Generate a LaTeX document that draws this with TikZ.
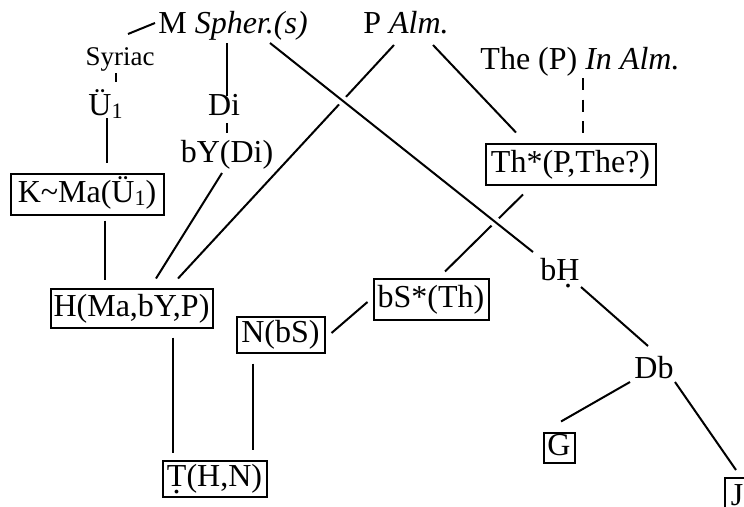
\documentclass[tikz,border=0pt]{standalone}
\usepackage{fontspec}
\setmainfont{Liberation Serif}
\pgfdeclarelayer{bg}
\pgfsetlayers{bg,main}
\newcommand\subone{\raisebox{-3pt}{\fontsize{22}{22}\selectfont 1}}
\newcommand\udot[1]{\leavevmode\setbox0\hbox{#1}\rlap{\hbox to\wd0{\hss\raisebox{-7pt}{.}\hss}}\box0}
\tikzset{
  lbl/.style={inner sep=0pt, anchor=base, font=\fontsize{32}{38}\selectfont},
  box/.style={draw, line width=2pt, inner xsep=2pt, inner ysep=0pt,
    text height=22pt, text depth=6pt, font=\fontsize{32}{38}\selectfont},
  conn/.style={line width=2pt},
  dashconn/.style={conn, dash pattern=on 12pt off 9.5pt},
  bridge/.style={conn, preaction={draw=white, line width=10pt}},
}
\begin{document}
\begin{tikzpicture}[x=1pt,y=-1pt]
\useasboundingbox (0,0) rectangle (744,506);
% top labels
\node[lbl] (M) at (233,33) {M \textit{Spher.(s)}};
\node[lbl] (P) at (406,33) {P \textit{Alm.}};
\node[lbl] (The) at (580,69.5) {The (P) \textit{In Alm.}};
\node[lbl, font=\fontsize{27}{32}\selectfont] (Sy) at (120,65) {Syriac};
\node[lbl] (U) at (105.5,115) {Ü\subone};
\node[lbl] (Di) at (224,115) {Di};
\node[lbl] (bY) at (227,162) {bY(Di)};
\node[lbl] (bH) at (560,280) {b\udot{H}};
\node[lbl] (Db) at (654,378) {Db};
% boxes
\node[box, minimum width=153pt, minimum height=41pt] (K) at (87,194) {K\textasciitilde Ma(Ü\subone)};
\node[box, minimum width=162pt, minimum height=39pt] (H) at (131.5,308) {H(Ma,bY,P)};
\node[box, minimum width=170pt, minimum height=41pt] (Th) at (570.5,164) {Th*(P,The?)};
\node[box, minimum width=115pt, minimum height=41pt] (bS) at (431,299) {bS*(Th)};
\node[box, minimum width=88pt, minimum height=36pt] (N) at (280.5,334.5) {N(bS)};
\node[box, minimum width=104pt, minimum height=36pt] (T) at (214.5,478.5) {\udot{T}(H,N)};
\node[box, minimum width=31pt, minimum height=30pt, inner xsep=1pt] (G) at (559,447.5) {G};
\node[box, minimum width=24pt, minimum height=38pt, anchor=north west] (J) at (724,477) {J};
\begin{pgfonlayer}{bg}
\draw[conn] ([shift={(-78,-10)}]M.base) -- ([shift={(8,-31)}]Sy.base);
\draw[conn] ([shift={(-4,8)}]Sy.base) -- ([shift={(10.5,-33)}]U.base);
\draw[conn] ([shift={(1.5,3)}]U.base) -- ([shift={(20,-10)}]K.north);
\draw[conn] ([shift={(18,5)}]K.south) -- ([shift={(-26.5,-8)}]H.north);
\draw[conn] ([shift={(-6,10)}]M.base) -- ([shift={(3,-19)}]Di.base);
\draw[conn] ([shift={(3,8)}]Di.base) -- ([shift={(0,-29)}]bY.base);
\draw[conn] ([shift={(-5,11)}]bY.base) -- ([shift={(24.5,-9)}]H.north);
\draw[conn] ([shift={(-12,12)}]P.base) -- ([shift={(46.5,-9)}]H.north);
\draw[conn] ([shift={(27,12)}]P.base) -- ([shift={(-54.5,-10)}]Th.north);
\draw[dashconn] ([shift={(3,8.5)}]The.base) -- ([shift={(12.5,-10)}]Th.north);
\draw[conn] ([shift={(-47.5,9)}]Th.south) -- ([shift={(14,-6)}]bS.north);
\draw[bridge] ([shift={(37,10)}]M.base) -- ([shift={(-27,-28)}]bH.base);
\draw[conn] ([shift={(-5,3)}]bS.west) -- ([shift={(6,-1.5)}]N.east);
\draw[conn] ([shift={(41.5,9)}]H.south) -- ([shift={(-41.5,-7)}]T.north);
\draw[conn] ([shift={(-27.5,10)}]N.south) -- ([shift={(38.5,-10)}]T.north);
\draw[conn] ([shift={(21,7)}]bH.base) -- ([shift={(-6,-32)}]Db.base);
\draw[conn] ([shift={(-24,4)}]Db.base) -- ([shift={(2,-10)}]G.north);
\draw[conn] ([shift={(21,4)}]Db.base) -- ([shift={(12,-7)}]J.north west);
\end{pgfonlayer}
\end{tikzpicture}
\end{document}
